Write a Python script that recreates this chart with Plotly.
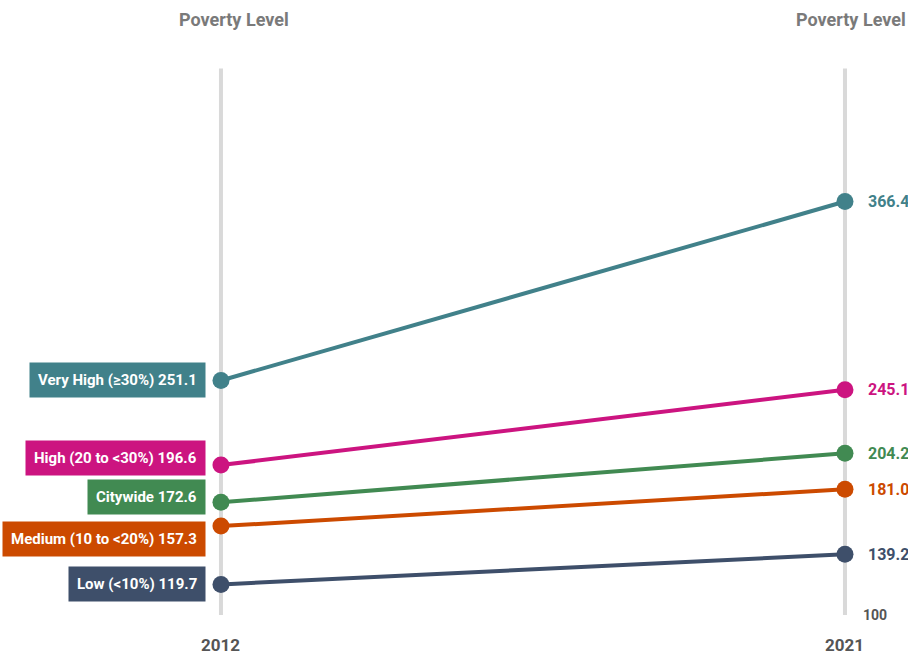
import plotly.graph_objects as go

years = [2012, 2021]
categories = ["Very High (≥30%)", "High (20 to <30%)", "Citywide", "Medium (10 to <20%)", "Low (<10%)"]
values_2012 = [251.1, 196.6, 172.6, 157.3, 119.7]
values_2021 = [366.4, 245.1, 204.2, 181.0, 139.2]
colors = ["#41818a", "#cc1480", "#418a52", "#cc4a00", "#3e4f6a"]
label_yshift = [0, 7, 5, -13, 0]
axis_min = 100
axis_top = 452
header = "Poverty Level"

FONT = "Roboto, sans-serif"
W, H = 908, 661
x0, x1 = 2008.813, 2021.909
y0, y1 = 70.4, 496.2

fig = go.Figure()

shapes = []
for yr in years:
    shapes.append(dict(type="line", xref="x", yref="y", x0=yr, x1=yr, y0=axis_min, y1=axis_top,
                       line=dict(color="#d9d9d9", width=4), layer="below"))

for cat, v0, v1, c in zip(categories, values_2012, values_2021, colors):
    fig.add_trace(go.Scatter(x=years, y=[v0, v1], mode="lines+markers", name=cat,
                             line=dict(color=c, width=4),
                             marker=dict(color=c, size=17, line=dict(width=0)),
                             hoverinfo="skip", showlegend=False))

ann = []
for cat, v0, v1, c, ys in zip(categories, values_2012, values_2021, colors, label_yshift):
    ann.append(dict(x=years[0], y=v0, xref="x", yref="y", text=f"<b>{cat} {v0:.1f}</b>",
                    xanchor="right", yanchor="middle", xshift=-15, yshift=ys, showarrow=False,
                    bgcolor=c, borderpad=8, font=dict(family=FONT, size=15, color="white")))
    ann.append(dict(x=years[1], y=v1, xref="x", yref="y", text=f"<b>{v1:.1f}</b>",
                    xanchor="left", yanchor="middle", xshift=21, showarrow=False,
                    font=dict(family=FONT, size=16, color=c)))

ann.append(dict(x=years[1], y=axis_min, xref="x", yref="y", text="<b>100</b>",
                xanchor="left", yanchor="middle", xshift=16, showarrow=False,
                font=dict(family=FONT, size=14, color="#555555")))
for yr in years:
    ann.append(dict(x=yr, y=1 - 645 / H, xref="x", yref="paper", text=f"<b>{yr}</b>",
                    xanchor="center", yanchor="middle", showarrow=False,
                    font=dict(family=FONT, size=17, color="#555555")))
ann.append(dict(x=234 / W, y=1 - 20 / H, xref="paper", yref="paper", text=f"<b>{header}</b>",
                xanchor="center", yanchor="middle", showarrow=False,
                font=dict(family=FONT, size=18, color="#7a7a7a")))
ann.append(dict(x=851 / W, y=1 - 20 / H, xref="paper", yref="paper", text=f"<b>{header}</b>",
                xanchor="center", yanchor="middle", showarrow=False,
                font=dict(family=FONT, size=18, color="#7a7a7a")))

fig.update_layout(
    width=W, height=H, margin=dict(l=0, r=0, t=0, b=0),
    paper_bgcolor="white", plot_bgcolor="white",
    xaxis=dict(range=[x0, x1], visible=False, fixedrange=True),
    yaxis=dict(range=[y0, y1], visible=False, fixedrange=True),
    shapes=shapes, annotations=ann,
)

fig.write_html("out.html", config={"displayModeBar": False},
               post_script="document.body.style.margin='0';document.body.style.overflow='hidden';")
